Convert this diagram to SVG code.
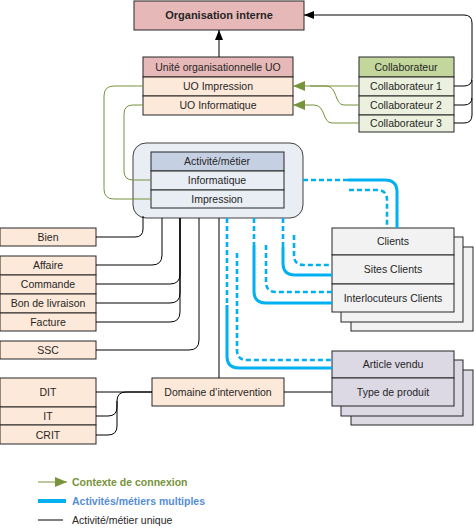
<svg xmlns="http://www.w3.org/2000/svg" width="474" height="528" viewBox="0 0 474 528">
<defs>
<style>
text{font-family:"Liberation Sans",Arial,sans-serif;font-size:10.5px;fill:#262626;text-anchor:middle}
.b{stroke:#262626;stroke-width:1}
.pk{fill:#e6b9b8}
.pe{fill:#fde9d9}
.gh{fill:#c3d69b}
.gr{fill:#ebf1de}
.ah{fill:#c5d0e2}
.ar{fill:#e9edf4}
.cl{fill:#f2f2f2}
.av{fill:#dcd8e4}
.k{fill:none;stroke:#000;stroke-width:1}
.g{fill:none;stroke:#77933c;stroke-width:1}
.s{fill:none;stroke:#00b0f0;stroke-width:3}
.d{fill:none;stroke:#00b0f0;stroke-width:2.6;stroke-dasharray:5 3}
.lg{text-anchor:start;font-weight:bold}
</style>
<marker id="ga" viewBox="0 0 12 10" refX="12" refY="5" markerWidth="12" markerHeight="10" markerUnits="userSpaceOnUse" orient="auto">
<path d="M0,0 L12,5 L0,10 z" fill="#77933c"/>
</marker>
<marker id="ka" viewBox="0 0 10 8" refX="10" refY="4" markerWidth="10" markerHeight="8" markerUnits="userSpaceOnUse" orient="auto">
<path d="M0,0 L10,4 L0,8 z" fill="#000"/>
</marker>
</defs>
<rect width="474" height="528" fill="#fff"/>

<g id="org">
<rect x="134" y="1" width="170" height="29" class="pk b"/>
<text x="219" y="19" style="font-weight:bold;font-size:11px">Organisation interne</text>
</g>

<g id="uo">
<rect x="143" y="57" width="150" height="20" class="pk b"/>
<rect x="143" y="77" width="150" height="19" class="pe b"/>
<rect x="143" y="96" width="150" height="19" class="pe b"/>
<text x="218" y="71">Unité organisationnelle UO</text>
<text x="218" y="90">UO Impression</text>
<text x="218" y="109">UO Informatique</text>
</g>

<g id="collab">
<rect x="359" y="57" width="95" height="20" class="gh b"/>
<rect x="359" y="77" width="95" height="19" class="gr b"/>
<rect x="359" y="96" width="95" height="19" class="gr b"/>
<rect x="359" y="115" width="95" height="17" class="gr b"/>
<text x="406" y="71">Collaborateur</text>
<text x="406" y="90">Collaborateur 1</text>
<text x="406" y="109">Collaborateur 2</text>
<text x="406" y="127">Collaborateur 3</text>
</g>

<g id="activite">
<rect x="133" y="143" width="170" height="75" rx="13" class="ar" stroke="#404040" stroke-width="1"/>
<rect x="151" y="152" width="133" height="19" class="ah b"/>
<rect x="151" y="171" width="133" height="19" class="ar b"/>
<rect x="151" y="190" width="133" height="18" class="ar b"/>
<text x="217" y="165">Activité/métier</text>
<text x="217" y="184">Informatique</text>
<text x="217" y="203">Impression</text>
</g>

<g id="bien">
<rect x="0" y="228" width="96" height="18" class="pe b"/>
<text x="48" y="241">Bien</text>
</g>

<g id="affaire">
<rect x="0" y="256" width="96" height="19" class="pe b"/>
<rect x="0" y="275" width="96" height="19" class="pe b"/>
<rect x="0" y="294" width="96" height="19" class="pe b"/>
<rect x="0" y="313" width="96" height="18" class="pe b"/>
<text x="48" y="269">Affaire</text>
<text x="48" y="288">Commande</text>
<text x="48" y="307">Bon de livraison</text>
<text x="48" y="326">Facture</text>
</g>

<g id="ssc">
<rect x="0" y="341" width="96" height="18" class="pe b"/>
<text x="48" y="354">SSC</text>
</g>

<g id="dit">
<rect x="0" y="378" width="96" height="29" class="pe b"/>
<rect x="0" y="407" width="96" height="18" class="pe b"/>
<rect x="0" y="425" width="96" height="19" class="pe b"/>
<text x="48" y="396">DIT</text>
<text x="48" y="420">IT</text>
<text x="48" y="439">CRIT</text>
</g>

<g id="domaine">
<rect x="152" y="378" width="132" height="28" class="pe b"/>
<text x="218" y="396">Domaine d’intervention</text>
</g>

<g id="clients">
<rect x="351" y="247" width="122" height="84" class="cl b"/>
<rect x="341" y="237" width="122" height="85" class="cl b"/>
<rect x="332" y="228" width="122" height="27" class="cl b"/>
<rect x="332" y="255" width="122" height="29" class="cl b"/>
<rect x="332" y="284" width="122" height="28" class="cl b"/>
<text x="393" y="245">Clients</text>
<text x="393" y="273">Sites Clients</text>
<text x="393" y="302">Interlocuteurs Clients</text>
</g>

<g id="article">
<rect x="351" y="370" width="122" height="55" class="av b"/>
<rect x="341" y="360" width="122" height="56" class="av b"/>
<rect x="332" y="351" width="122" height="27" class="av b"/>
<rect x="332" y="378" width="122" height="28" class="av b"/>
<text x="393" y="368">Article vendu</text>
<text x="393" y="396">Type de produit</text>
</g>

<g id="connectors">
<path class="k" d="M219,57 V30" marker-end="url(#ka)"/>
<path class="k" d="M454,86 H464 Q472,86 472,78 V23 Q472,15 464,15 H304" marker-end="url(#ka)"/>
<path class="k" d="M454,105 H464 Q472,105 472,97 V80"/>
<path class="k" d="M454,123 H464 Q472,123 472,115 V98"/>

<path class="g" d="M359,86 H293" marker-end="url(#ga)"/>
<path class="g" d="M359,105 H344 C334,105 338,86 326,86 H310"/>
<path class="g" d="M359,123 H332 C322,123 326,105 314,105 H293" marker-end="url(#ga)"/>
<path class="g" d="M143,86 H114 Q104,86 104,96 V189 Q104,199 114,199 H151"/>
<path class="g" d="M143,105 H133 Q124,105 124,114 V171 Q124,180 133,180 H151"/>

<path class="k" d="M143,216 V229 Q143,237 135,237 H96"/>
<path class="k" d="M162,218 V255 Q162,265 152,265 H96"/>
<path class="k" d="M180,218 V274 Q180,284 170,284 H96"/>
<path class="k" d="M180,218 V293 Q180,303 170,303 H96"/>
<path class="k" d="M180,218 V312 Q180,322 170,322 H96"/>
<path class="k" d="M199,218 V340 Q199,350 189,350 H96"/>
<path class="k" d="M219,218 V378"/>
<path class="k" d="M152,392 H96"/>
<path class="k" d="M96,416 H108 Q117,416 117,407 V401 Q117,392 126,392 H152"/>
<path class="k" d="M96,435 H108 Q117,435 117,426 V401"/>
<path class="k" d="M284,392 H332"/>

<path class="d" d="M303,180 H348"/>
<path class="s" d="M348,180 H385 Q397,180 397,192 V228"/>
<path class="d" d="M349,190 H377 Q387,190 387,200 V228"/>

<path class="d" d="M283,218 V247"/>
<path class="s" d="M283,247 V263 Q283,275 295,275 H332"/>
<path class="d" d="M294,235 V255 Q294,265 304,265 H332"/>

<path class="d" d="M254,218 V245"/>
<path class="s" d="M254,245 V291 Q254,303 266,303 H332"/>
<path class="d" d="M266,245 V282 Q266,292 276,292 H332"/>

<path class="d" d="M227,218 V305"/>
<path class="s" d="M227,305 V356 Q227,368 239,368 H332"/>
<path class="d" d="M237,253 V350 Q237,360 247,360 H332"/>
</g>

<g id="legend">
<path class="g" d="M38,482 H67" marker-end="url(#ga)"/>
<text x="72" y="486" class="lg" style="fill:#77933c">Contexte de connexion</text>
<path d="M38,501 H66" fill="none" stroke="#00b0f0" stroke-width="4"/>
<text x="72" y="505" class="lg" style="fill:#558ed5">Activités/métiers multiples</text>
<path class="k" d="M38,520 H63"/>
<text x="72" y="524" style="text-anchor:start">Activité/métier unique</text>
</g>
</svg>
